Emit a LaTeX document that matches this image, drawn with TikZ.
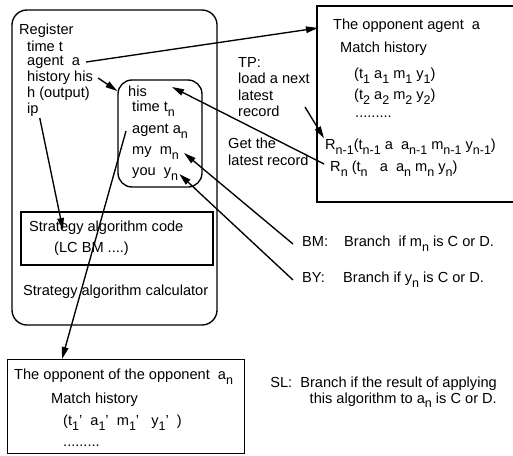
\documentclass[tikz,border=0pt]{standalone}
\usepackage{fontspec}
\setmainfont{Liberation Sans}
\usetikzlibrary{arrows.meta, calc, positioning}

\newcommand{\sbs}[1]{\raisebox{-0.6ex}{\fontsize{12.5}{12.5}\selectfont #1}}

\tikzset{
    txt/.style={anchor=west, inner sep=1pt, font=\fontsize{14.6}{16.4}\selectfont},
    link/.style={line width=1.35pt, -{Triangle[length=12pt, width=6.5pt]}},
    frame/.style={draw, line width=1.35pt},
}

\begin{document}
\begin{tikzpicture}[x=1pt, y=-1pt]
    \useasboundingbox (0,0) rectangle (513,455);

    % Calcolatore
    \draw[frame, rounded corners=15pt] (12,10) rectangle (217,325);
    \node[txt] (reg) at (18,31) {Register};
    \node[txt] (regtime) at (26,46) {time t};
    \node[txt] (regagent) at (26,62) {agent \ a};
    \node[txt] (reghis) at (26,78) {history his};
    \node[txt] (regout) at (26,94) {h (output)};
    \node[txt] (regip) at (26,110) {ip};

    \node[frame, rounded corners=14pt, minimum width=84pt, minimum height=107pt] (cur) at (160,133.5) {};
    \node[txt] (curhis) at (127,91) {his};
    \node[txt] (curtime) at (131,109) {time t\sbs{n}};
    \node[txt] (curagent) at (131,131) {agent a\sbs{n}};
    \node[txt] (curmy) at (131,153) {my \ m\sbs{n}};
    \node[txt] (curyou) at (131,174) {you \ y\sbs{n}};

    \node[draw, line width=1.1pt, minimum width=192pt, minimum height=53pt] (code) at (117,238.5) {};
    \node[txt] (codet) at (28,228) {Strategy algorithm code};
    \node[txt] (codel) at (53,249) {(LC BM ....)};
    \node[txt] (calc) at (22,292) {Strategy algorithm calculator};

    % Avversario
    \node[frame, line width=1.7pt, anchor=north west, minimum width=230pt, minimum height=196pt] (opp) at (316,5) {};
    \node[txt] (oppname) at (332,26) {The opponent agent \ a};
    \node[txt] (opphist) at (339,49) {Match history};
    \node[txt] (opp1) at (353,76) {(t\sbs{1} a\sbs{1} m\sbs{1} y\sbs{1})};
    \node[txt] (opp2) at (353,97) {(t\sbs{2} a\sbs{2} m\sbs{2} y\sbs{2})};
    \node[txt] (oppdots) at (354,117) {.........};
    \node[txt] (rprev) at (324,147) {R\sbs{n-1}(t\sbs{n-1} a \ a\sbs{n-1} m\sbs{n-1} y\sbs{n-1})};
    \node[txt] (rlast) at (329,169) {R\sbs{n} (t\sbs{n} \ \ a \ a\sbs{n} m\sbs{n} y\sbs{n})};

    \node[txt, anchor=north west, align=left] (tp) at (237,56) {TP:\\load a next\\latest\\record};
    \node[txt, anchor=north west, align=left] (get) at (227,137) {Get the\\latest record};

    % Istruzioni
    \node[txt] (bm) at (301,244) {\makebox[42pt][l]{BM:}Branch \ if m\sbs{n} is C or D.};
    \node[txt] (by) at (301,280) {\makebox[41pt][l]{BY:}Branch if y\sbs{n} is C or D.};
    \node[txt, anchor=north east, align=right, font=\fontsize{14.6}{15.4}\selectfont] (sl) at (498,376) {SL:\ \ Branch if the result of applying\\this algorithm to a\sbs{n} is C or D.};

    % Avversario dell'avversario
    \node[frame, anchor=north west, minimum width=237pt, minimum height=94pt] (low) at (7,359) {};
    \node[txt] (lowname) at (13,377) {The opponent of the opponent \ a\sbs{n}};
    \node[txt] (lowhist) at (50,400) {Match history};
    \node[txt] (low1) at (62,423) {(t\sbs{1}' \ a\sbs{1}' \ m\sbs{1}' \ \ y\sbs{1}' \ )};
    \node[txt] (lowdots) at (62,446) {.........};

    \coordinate (oppin) at (318,28);
    \coordinate (tpout) at (305,107);
    \coordinate (hisin) at (172,87);
    \coordinate (ipin) at (63,230);
    \coordinate (lowin) at (62,359);

    % Frecce
    \draw[link] ([xshift=5pt]regagent.east) -- (oppin);
    \draw[link] ([xshift=4pt]reghis.east) -- (cur.west |- curhis);
    \draw[link] (regip.south east) -- (ipin);
    \draw[link] ([xshift=-5pt]curagent.west) -- (lowin);
    \draw[link] ([shift={(-5pt,5pt)}]rlast.west) -- (hisin);
    \draw[link] (tpout) -- (rprev.north west);
    \draw[link] ([xshift=-8pt]bm.west) -- ([xshift=4pt]curmy.east);
    \draw[link] ([xshift=-8pt]by.west) -- (curyou.east);
\end{tikzpicture}
\end{document}
